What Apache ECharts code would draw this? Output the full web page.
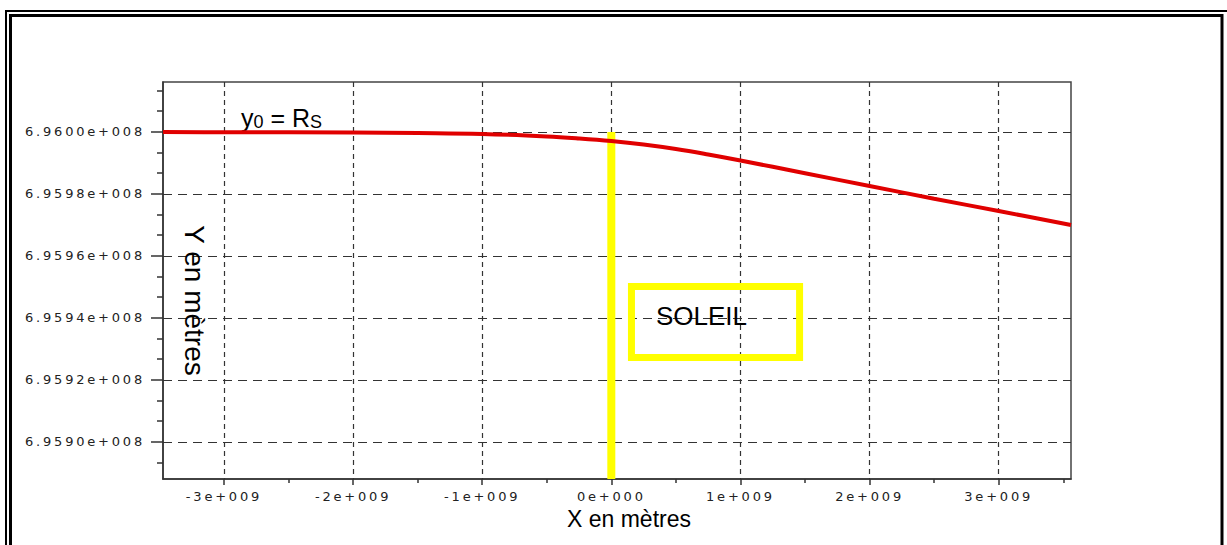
<!DOCTYPE html>
<html>
<head>
    <meta charset="utf-8">
    <script src="https://cdn.jsdelivr.net/npm/echarts@6/dist/echarts.min.js"></script>
</head>
<body>
    <div id="main"></div>
    <style>
html,body { margin: 0; padding: 0; background: #fff; }
#main { width: 1227px; height: 545px; }
/* tick labels are the only DejaVu texts: spread them like the old plot */
#main text[style*="DejaVu"] { letter-spacing: 2.8px; }
    </style>
    <script type="text/javascript">
// ray path near the sun, metres
var xValues = [-3.472e9, -3e9, -2e9, -1.5e9, -1e9, -0.5e9, -0.25e9, 0, 0.25e9, 0.5e9, 0.75e9, 1e9, 1.5e9, 2e9, 2.5e9, 3e9, 3.56e9];
var yValues = [695999970, 695999900, 695999810, 695999650, 695999350, 695998550, 695997900, 695997060, 695995930,
               695994480, 695992710, 695990770, 695986670, 695982540, 695978440, 695974470, 695969960];

var xRange = [-3.472e9, 3.56e9];
var yRange = [695888000, 696016100];

var xTicks = [-3e9, -2e9, -1e9, 0, 1e9, 2e9, 3e9];
var xTickLabels = ['-3e+009', '-2e+009', '-1e+009', '0e+000', '1e+009', '2e+009', '3e+009'];
var xMinorTicks = [-2.5e9, -1.5e9, -0.5e9, 0.5e9, 1.5e9, 2.5e9, 3.5e9];

var yTicks = [695900000, 695920000, 695940000, 695960000, 695980000, 696000000];
var yTickLabels = ['6.9590e+008', '6.9592e+008', '6.9594e+008', '6.9596e+008', '6.9598e+008', '6.9600e+008'];
var yMinorTicks = [695893333, 695906667, 695913333, 695926667, 695933333, 695946667, 695953333,
                   695966667, 695973333, 695986667, 695993333, 696006667, 696013333];

// yellow bar at x = 0 and the SOLEIL box
var sunLine = [[0, 696000000], [0, 695888000]];
var sunBox = [[0.156e9, 695950100], [1.458e9, 695927200]];

function initialize() {
    var gridLine = '#333';
    var tickFont = { fontFamily: 'DejaVu Sans', fontSize: 13, color: '#222' };
    var option = {
        animation: false,
        backgroundColor: '#fff',
        grid: {
            left: 163, right: 156, top: 82, bottom: 66,
            show: true, borderColor: '#444', borderWidth: 1.5
        },
        xAxis: [{
            type: 'value',
            min: xRange[0], max: xRange[1],
            name: 'X en mètres',
            nameLocation: 'middle',
            nameGap: 24,
            nameTextStyle: { fontFamily: 'Liberation Sans', fontSize: 23, color: '#000', padding: [0, 0, 0, 24] },
            axisLine: { onZero: false, lineStyle: { color: '#333', width: 1.5 } },
            axisTick: { customValues: xTicks, length: 6, lineStyle: { color: '#333', width: 1.5 } },
            axisLabel: Object.assign({
                customValues: xTicks,
                margin: 11,
                formatter: function (v) { return xTickLabels[xTicks.indexOf(v)]; }
            }, tickFont),
            splitLine: { show: true, lineStyle: { color: gridLine, width: 1.2, type: [5, 4] } }
        }, {
            type: 'value',
            min: xRange[0], max: xRange[1],
            position: 'bottom',
            axisLine: { show: false, onZero: false },
            axisTick: { customValues: xMinorTicks, length: 4, lineStyle: { color: '#333', width: 1.5 } },
            axisLabel: { show: false },
            splitLine: { show: false }
        }],
        yAxis: [{
            type: 'value',
            min: yRange[0], max: yRange[1],
            name: 'Y en mètres',
            nameLocation: 'middle',
            nameRotate: -90,
            nameGap: -45,
            nameTextStyle: { fontFamily: 'Liberation Sans', fontSize: 28, color: '#000', padding: [0, 0, 0, 40] },
            axisLine: { onZero: false, lineStyle: { color: '#333', width: 1.5 } },
            axisTick: { customValues: yTicks, length: 12, lineStyle: { color: '#333', width: 1.5 } },
            axisLabel: Object.assign({
                customValues: yTicks,
                margin: 18,
                formatter: function (v) { return yTickLabels[yTicks.indexOf(v)]; }
            }, tickFont),
            splitLine: { show: true, lineStyle: { color: gridLine, width: 1.2, type: [9, 6] } }
        }, {
            type: 'value',
            min: yRange[0], max: yRange[1],
            position: 'left',
            axisLine: { show: false, onZero: false },
            axisTick: { customValues: yMinorTicks, length: 6, lineStyle: { color: '#333', width: 1.5 } },
            axisLabel: { show: false },
            splitLine: { show: false }
        }],
        series: [{
            type: 'line',
            data: sunLine,
            showSymbol: false,
            symbol: 'none',
            lineStyle: { color: '#ffff00', width: 8 },
            markArea: {
                silent: true,
                itemStyle: { color: 'rgba(0,0,0,0)', borderColor: '#ffff00', borderWidth: 7 },
                label: {
                    show: true, position: 'inside', offset: [-14, -6],
                    formatter: 'SOLEIL',
                    fontFamily: 'Liberation Sans', fontSize: 26, color: '#000'
                },
                data: [[{ coord: sunBox[0] }, { coord: sunBox[1] }]]
            }
        }, {
            type: 'line',
            data: xValues.map(function (x, i) { return [x, yValues[i]]; }),
            smooth: 0.4,
            showSymbol: false,
            symbol: 'none',
            lineStyle: { color: '#e00000', width: 4 }
        }],
        graphic: [{
            type: 'rect', silent: true,
            shape: { x: 6, y: 11, width: 1240, height: 600 },
            style: { fill: 'none', stroke: '#000', lineWidth: 2 }
        }, {
            type: 'rect', silent: true,
            shape: { x: 10.5, y: 15.5, width: 1211.5, height: 600 },
            style: { fill: 'none', stroke: '#000', lineWidth: 3 }
        }, {
            type: 'text', silent: true,
            x: 241, y: 118,
            style: {
                text: '{n|y}{s|0}{n| = R}{s|S}',
                verticalAlign: 'middle', align: 'left',
                fill: '#000',
                rich: {
                    n: { fontFamily: 'Liberation Sans', fontSize: 25, lineHeight: 26 },
                    s: { fontFamily: 'Liberation Sans', fontSize: 18, lineHeight: 16, padding: [8, 0, 0, 0] }
                }
            }
        }]
    };
    var chart = echarts.init(document.getElementById('main'), null, { renderer: 'svg' });
    chart.setOption(option);
}
initialize();
    </script>
</body>
</html>
